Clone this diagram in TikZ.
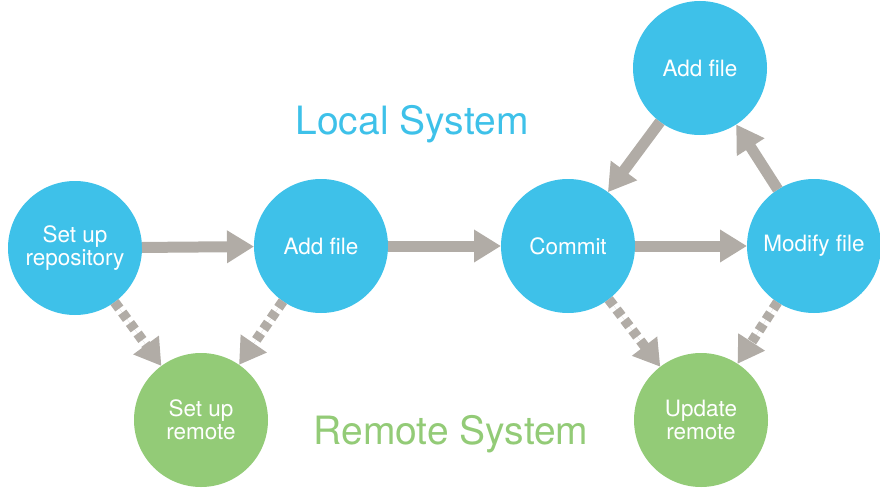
\documentclass[tikz,border=0pt]{standalone}
\usepackage{fontspec}
\setmainfont{TeX Gyre Heros}
\usetikzlibrary{arrows.meta}
\definecolor{cblue}{HTML}{3EC1E9}
\definecolor{cgreen}{HTML}{93CB77}
\definecolor{cgray}{HTML}{B1ACA6}
\begin{document}
\begin{tikzpicture}[x=1pt,y=-1pt,
  circ/.style={circle,minimum size=134pt,inner sep=0pt,outer sep=0pt,text=white,align=center,font=\fontsize{22.5}{23}\selectfont},
  localc/.style={circ,fill=cblue},
  remotec/.style={circ,fill=cgreen},
  solidarrow/.style={draw=cgray,fill=cgray,line width=11pt,-{Triangle[length=27pt,width=31pt]}},
  dasharrow/.style={solidarrow,line width=10pt,dash pattern=on 8pt off 5pt,-{Triangle[length=26pt,width=30pt]}},
  title/.style={font=\fontsize{39}{42}\selectfont}
]
\useasboundingbox (0,0) rectangle (880,487);
\node[localc] (setup) at (75,248) {Set up\\repository};
\node[localc] (add1) at (321,246) {Add file};
\node[localc] (commit) at (568,246) {Commit};
\node[localc] (modify) at (814,246) {Modify file};
\node[localc] (add2) at (700,68) {Add file};
\node[remotec] (sremote) at (201,420) {Set up\\remote};
\node[remotec] (uremote) at (701,420) {Update\\remote};
\node[title,text=cblue] (local) at (412,124) {Local System};
\node[title,text=cgreen] (remote) at (451,434) {Remote System};
\draw[solidarrow] (setup) -- (add1);
\draw[solidarrow] (add1) -- (commit);
\draw[solidarrow] (commit) -- (modify);
\draw[solidarrow] (add2) -- (commit);
\draw[solidarrow] (modify) -- (add2);
\draw[dasharrow] (setup) -- (sremote);
\draw[dasharrow] (add1) -- (sremote);
\draw[dasharrow] (commit) -- (uremote);
\draw[dasharrow] (modify) -- (uremote);
\end{tikzpicture}
\end{document}
